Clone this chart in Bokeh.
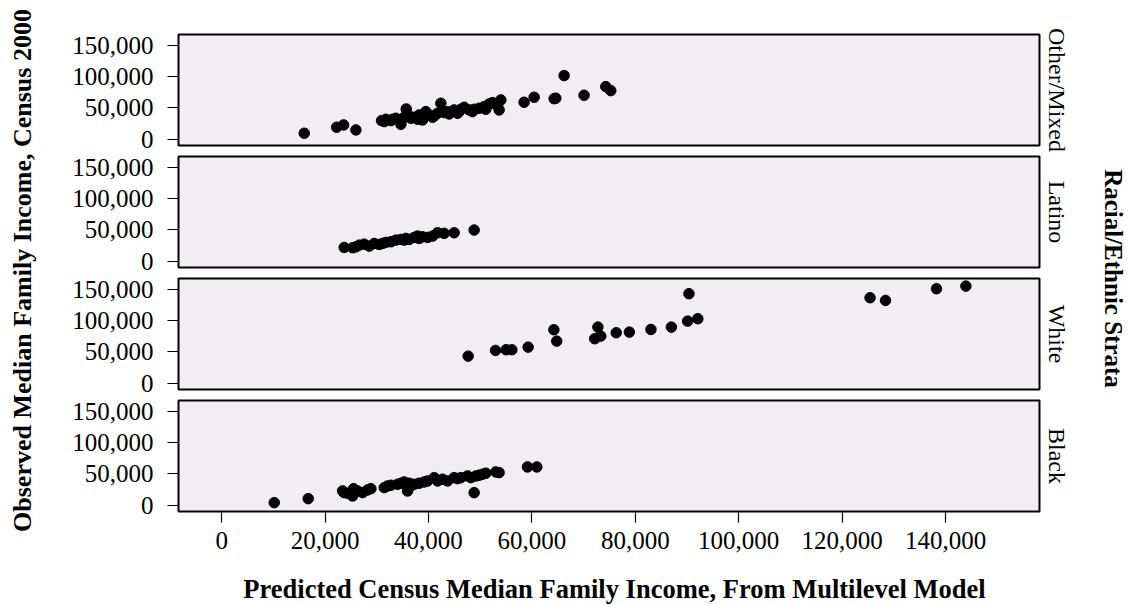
import math
from bokeh.plotting import figure
from bokeh.models import Range1d, FixedTicker, NumeralTickFormatter, Label, LinearAxis
from bokeh.layouts import row, column
from bokeh.embed import file_html
from bokeh.resources import INLINE

# ---------------- data ----------------
strata = ["Other/Mixed", "Latino", "White", "Black"]

other_x = [15970, 22230, 23580, 25960, 30920, 31440, 31760, 32730, 33050, 33690,
           34340, 34660, 35300, 35690, 36270, 36590, 37230, 37880, 38200, 38850,
           39160, 39490, 40130, 40790, 41100, 41750, 42390, 43030, 43680, 44000,
           44960, 45620, 45930, 46260, 46900, 47860, 48520, 48830, 49790, 50760,
           51090, 51730, 52380, 53350, 53660, 53990, 58490, 60430, 64300, 64620,
           66230, 70090, 74290, 75250]
other_y = [9600, 19200, 22900, 14900, 29810, 28210, 31950, 29810, 31950, 33550,
           30880, 23950, 35150, 48480, 37280, 33550, 35150, 31950, 38880, 30880,
           37280, 44210, 38880, 35150, 37280, 41550, 57550, 42610, 44210, 40480,
           46880, 41550, 44210, 47950, 51150, 46880, 44210, 47950, 49550, 52210,
           47950, 56480, 58610, 53280, 46880, 62880, 59200, 67200, 64800, 65600,
           101800, 70400, 84200, 77800]

latino_x = [23700, 25320, 25960, 26600, 27570, 28530, 29500, 30470, 31120, 31760,
            32730, 33690, 34660, 35300, 35630, 36270, 37230, 37880, 38200, 38850,
            39820, 40790, 41750, 43030, 44960, 48830]
latino_y = [22060, 21570, 23020, 25760, 27370, 24150, 28450, 26890, 28450, 30110,
            31130, 33810, 34880, 33810, 36500, 34880, 38110, 40250, 36500, 39130,
            38110, 40250, 45560, 44600, 45560, 49910]

white_x = [47670, 52960, 55010, 56120, 59270, 64250, 64800, 72140, 72760, 73320,
           76310, 78850, 83020, 86970, 90120, 90370, 92090, 125400, 128390, 138250,
           143930]
white_y = [43360, 52480, 53600, 53600, 57760, 85600, 67360, 71200, 89760, 75360,
           80800, 81760, 86080, 89760, 99360, 143200, 103200, 136800, 132480, 151200,
           155360]

black_x = [10170, 16740, 23390, 23700, 24360, 25320, 25520, 26290, 27260, 28220,
           28860, 31440, 32090, 32730, 34020, 34660, 35300, 35950, 36270, 36590,
           37230, 38200, 39160, 39820, 41100, 41750, 42720, 43680, 44960, 45620,
           46260, 47550, 48190, 48830, 49160, 49790, 50450, 51090, 53020, 53660,
           59150, 60950]
black_y = [4160, 10560, 22880, 20160, 19200, 14880, 26560, 22880, 20160, 24480,
           26560, 28160, 30880, 32000, 33600, 35200, 37280, 22880, 35200, 30880,
           33600, 35200, 37280, 38880, 44160, 38880, 41600, 38880, 44160, 42560,
           44160, 46880, 44160, 20160, 46880, 48000, 49600, 51200, 53280, 52160,
           61280, 61280]

x_ticks = [0, 20000, 40000, 60000, 80000, 100000, 120000, 140000]
y_ticks = [0, 50000, 100000, 150000]

x_label = "Predicted Census Median Family Income, From Multilevel Model"
y_label = "Observed Median Family Income, Census 2000"
strip_title = "Racial/Ethnic Strata"

# ---------------- styling / layout ----------------
FONT = "Liberation Serif"
PANEL_BG = "#f0eef0"
TOTAL_W, TOTAL_H = 1128, 604
LEFT_W = 48
BL, FRAME_W, BR = 130, 861, 40
PANEL_W = BL + FRAME_W + BR
RIGHT_W = TOTAL_W - LEFT_W - PANEL_W
FRAME_H = 111
tops = [34, 4, 4, 4]
bottoms = [7, 7, 7, 50]
heights = [t + FRAME_H + b for t, b in zip(tops, bottoms)]
XLAB_H = TOTAL_H - sum(heights)

x_range = Range1d(-8350, 158170)
y_range = Range1d(-10000, 167500)

series = [(other_x, other_y), (latino_x, latino_y), (white_x, white_y), (black_x, black_y)]


def style_ticks(ax, ticks, standoff):
    ax.ticker = FixedTicker(ticks=ticks)
    ax.formatter = NumeralTickFormatter(format="0,0")
    ax.axis_line_color = None
    ax.major_tick_out = 11
    ax.major_tick_in = 0
    ax.major_tick_line_color = "black"
    ax.major_tick_line_width = 1.2
    ax.minor_tick_line_color = None
    ax.major_label_standoff = standoff
    ax.major_label_text_font = FONT
    ax.major_label_text_font_size = "25px"
    ax.major_label_text_color = "black"


panels = []
for i, (name, (xs, ys)) in enumerate(zip(strata, series)):
    last = i == len(strata) - 1
    p = figure(width=PANEL_W, height=heights[i], x_range=x_range, y_range=y_range,
               output_backend="svg", toolbar_location=None,
               x_axis_location="below" if last else None,
               min_border_left=BL, min_border_right=BR,
               min_border_top=tops[i], min_border_bottom=bottoms[i],
               background_fill_color=PANEL_BG, border_fill_color="white",
               outline_line_color="black", outline_line_width=2)
    p.grid.visible = False
    p.scatter(xs, ys, marker="circle", size=10.5, color="black")

    style_ticks(p.yaxis[0], y_ticks, 14)
    if last:
        style_ticks(p.xaxis[0], x_ticks, 9)

    strip = LinearAxis(ticker=FixedTicker(ticks=[]), axis_label=name,
                       axis_line_color=None, major_tick_line_color=None,
                       minor_tick_line_color=None, major_tick_out=0, major_tick_in=0,
                       minor_tick_out=0, minor_tick_in=0,
                       major_label_text_font_size="0px", axis_label_standoff=4,
                       axis_label_text_font=FONT, axis_label_text_font_size="24px",
                       axis_label_text_font_style="normal", axis_label_text_color="black")
    p.add_layout(strip, "right")
    panels.append(p)


def blank(w, h):
    f = figure(width=w, height=h, x_range=(0, 1), y_range=(0, 1),
               x_axis_type=None, y_axis_type=None, toolbar_location=None,
               output_backend="svg", min_border=0, outline_line_color=None,
               background_fill_color="white", border_fill_color="white")
    f.grid.visible = False
    return f


left = blank(LEFT_W, TOTAL_H)
left.add_layout(Label(x=22, y=TOTAL_H - 270, x_units="screen", y_units="screen",
                      text=y_label, angle=math.pi / 2, text_align="center",
                      text_baseline="middle", text_font=FONT, text_font_size="26px",
                      text_font_style="bold", text_color="black"))

right = blank(RIGHT_W, TOTAL_H)
right.add_layout(Label(x=34, y=TOTAL_H - 278, x_units="screen", y_units="screen",
                       text=strip_title, angle=-math.pi / 2, text_align="center",
                       text_baseline="middle", text_font=FONT, text_font_size="25px",
                       text_font_style="bold", text_color="black"))

# the label strip under the panels shares their frame alignment (frame starts at LEFT_W + BL)
xlab = blank(PANEL_W, XLAB_H)
xlab.add_layout(Label(x=614 - LEFT_W - BL, y=16, x_units="screen", y_units="screen",
                      text=x_label, text_align="center", text_baseline="middle",
                      text_font=FONT, text_font_size="26.5px", text_font_style="bold",
                      text_color="black"))

layout = row(left, column(*panels, xlab), right)

open("out.html", "w").write(file_html(layout, INLINE))
